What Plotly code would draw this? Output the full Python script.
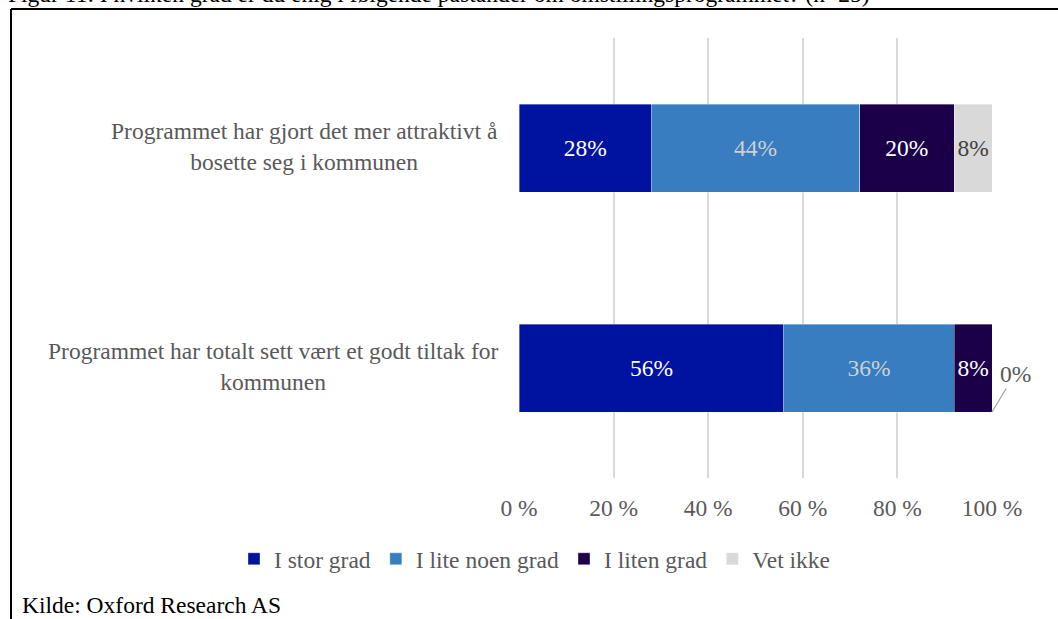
import plotly.graph_objects as go

# Survey statements (top to bottom) and answer shares in percent
statements = [
    "Programmet har gjort det mer attraktivt å<br>bosette seg i kommunen",
    "Programmet har totalt sett vært et godt tiltak for<br>kommunen",
]
series_names = ["I stor grad", "I lite noen grad", "I liten grad", "Vet ikke"]
i_stor_grad = [28, 56]
i_lite_noen_grad = [44, 36]
i_liten_grad = [20, 8]
vet_ikke = [8, 0]
x_ticks = [0, 20, 40, 60, 80, 100]
x_tick_labels = ["0 %", "20 %", "40 %", "60 %", "80 %", "100 %"]

title_text = "Figur 11: I hvilken grad er du enig i følgende påstander om omstillingsprogrammet? (n=25)"
source_text = "Kilde: Oxford Research AS"

series_values = [i_stor_grad, i_lite_noen_grad, i_liten_grad, vet_ikke]
colors = ["#0012A0", "#377DBF", "#1B0049", "#D9D9D9"]
label_colors = ["#FFFFFF", "#D0D0D0", "#FFFFFF", "#404040"]

FONT = "Liberation Serif"
FS = 23.5
W, H = 1058, 619
M = dict(l=519, r=66, t=38, b=141, autoexpand=False)
plot_w = W - M["l"] - M["r"]
plot_h = H - M["t"] - M["b"]
BAR_WIDTH = 0.4


def px_x(px):
    return (px - M["l"]) / plot_w


def px_y(py):
    return (H - M["b"] - py) / plot_h


fig = go.Figure()
for name, vals, col, tcol in zip(series_names, series_values, colors, label_colors):
    fig.add_trace(go.Bar(
        y=statements,
        x=vals,
        name=name,
        orientation="h",
        width=BAR_WIDTH,
        marker=dict(color=col, line=dict(color="rgba(255,255,255,0.6)", width=0.6)),
        text=[f"{v}%" if v > 0 else "" for v in vals],
        textposition="inside",
        insidetextanchor="middle",
        textfont=dict(family=FONT, size=FS, color=tcol),
        constraintext="none",
        hoverinfo="skip",
    ))

annotations = []
# Zero-value labels sit outside the bar end with a leader line
for i, stmt in enumerate(statements):
    if vet_ikke[i] == 0:
        total = i_stor_grad[i] + i_lite_noen_grad[i] + i_liten_grad[i] + vet_ikke[i]
        annotations.append(dict(
            x=total, y=i + BAR_WIDTH / 2, xref="x", yref="y",
            text=f"{vet_ikke[i]}%", showarrow=True, arrowhead=0,
            arrowwidth=1.3, arrowcolor="#A6A6A6", ax=23, ay=-38,
            font=dict(family=FONT, size=FS, color="#595959"),
        ))

# Category labels, centred on two lines to the left of the bars
for stmt in statements:
    annotations.append(dict(
        x=px_x(500), y=stmt, xref="paper", yref="y",
        xanchor="right", yanchor="middle", align="center",
        text=stmt, showarrow=False, yshift=2,
        font=dict(family=FONT, size=FS, color="#595959"),
    ))

# Figure caption (runs off the top edge) and source line
annotations.append(dict(
    x=px_x(6), y=px_y(9), xref="paper", yref="paper",
    xanchor="left", yanchor="bottom", text=title_text, showarrow=False,
    font=dict(family=FONT, size=FS, color="#000000"),
))
annotations.append(dict(
    x=px_x(20), y=px_y(605), xref="paper", yref="paper",
    xanchor="left", yanchor="middle", text=source_text, showarrow=False,
    font=dict(family=FONT, size=FS, color="#000000"),
))

shapes = [
    dict(type="line", xref="paper", yref="paper",
         x0=px_x(11), x1=px_x(W + 5), y0=px_y(9), y1=px_y(9),
         line=dict(color="#000000", width=2)),
    dict(type="line", xref="paper", yref="paper",
         x0=px_x(11), x1=px_x(11), y0=px_y(9), y1=px_y(H + 5),
         line=dict(color="#000000", width=2)),
]

fig.update_layout(
    width=W, height=H,
    margin=M,
    barmode="stack",
    plot_bgcolor="white",
    paper_bgcolor="white",
    font=dict(family=FONT, size=FS, color="#595959"),
    xaxis=dict(
        range=[0, 100], tickvals=x_ticks, ticktext=x_tick_labels,
        showgrid=True, gridcolor="#D9D9D9", gridwidth=2,
        zeroline=False, showline=False, ticks="",
        ticklabelstandoff=13,
        tickfont=dict(family=FONT, size=FS, color="#595959"),
    ),
    yaxis=dict(
        categoryorder="array", categoryarray=statements,
        autorange="reversed", showticklabels=False,
        showgrid=False, zeroline=False, showline=False,
    ),
    legend=dict(
        orientation="h",
        x=px_x(234), xanchor="left",
        y=px_y(559), yanchor="middle",
        font=dict(family=FONT, size=FS, color="#595959"),
        itemwidth=30, traceorder="normal",
    ),
    annotations=annotations,
    shapes=shapes,
    showlegend=True,
)

fig.write_html("out.html")
